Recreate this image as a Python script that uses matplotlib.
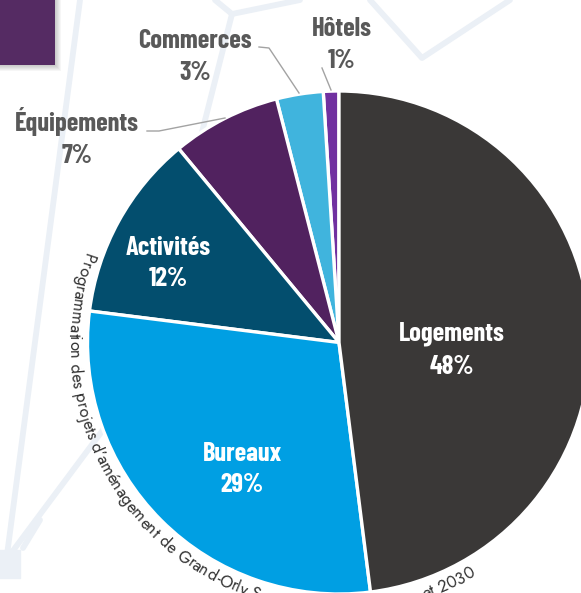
import numpy as np
import matplotlib
matplotlib.use("Agg")
import matplotlib.pyplot as plt
from matplotlib.font_manager import FontProperties, findfont
from matplotlib.ft2font import FT2Font
from matplotlib.patches import Rectangle

# data (counter-clockwise from 12 o'clock)
categories = ["Hôtels", "Commerces", "Équipements", "Activités", "Bureaux", "Logements"]
shares = [1, 3, 7, 12, 29, 48]
pct_labels = ["1%", "3%", "7%", "12%", "29%", "48%"]
colors = ["#7030a0", "#40b4dd", "#51225f", "#034e6e", "#009fe3", "#3a3837"]
caption = "Programmation des projets d’aménagement de Grand-Orly Seine Bièvre entre 2021 et 2030"

# layout, in image pixels (y pointing down)
W, H = 581, 593
CX, CY, R = 339, 342.5, 251.5
LABEL_FONT = ["Barlow Condensed", "DejaVu Sans"]
CAPTION_FONT = ["Jost", "DejaVu Sans"]
label_pos = {
    # x, name baseline y, percent baseline y, inside the pie?
    "Hôtels": (342, 36, 68, False),
    "Commerces": (195, 48, 80, False),
    "Équipements": (77, 131, 163, False),
    "Activités": (168, 255, 286, True),
    "Bureaux": (242, 461, 492, True),
    "Logements": (452, 341, 374, True),
}
leaders = {
    "Hôtels": [(322, 68), (331, 90)],
    "Commerces": [(259, 47), (269, 48), (299, 93)],
    "Équipements": [(147, 131), (159, 131), (225, 118)],
}
bg_lines = [
    [(80, 0), (7, 555)],
    [(12, 552), (170, 340)],
    [(23, 548), (40, 520)],
    [(215, 0), (232, 14), (300, 0)],
    [(232, 14), (200, 140)],
    [(370, 0), (422, 58), (510, 0)],
]


def px(x, y):
    return x, H - y


fig = plt.figure(figsize=(W / 100, H / 100), dpi=100)
ax = fig.add_axes([0, 0, 1, 1])

# background network
for line in bg_lines:
    xs, ys = zip(*[px(*p) for p in line])
    ax.plot(xs, ys, color="#ebf0f6", lw=4.2, solid_capstyle="round",
            solid_joinstyle="round", zorder=0)
ax.add_patch(Rectangle(px(-2, 578), 22, 28, color="#ebf0f6", zorder=0))

# purple box with soft shadow
for k in range(6, 0, -1):
    ax.add_patch(Rectangle(px(-5, 65 + k), 60 + k, 70 + k, color="black",
                           alpha=0.035, lw=0, zorder=1))
ax.add_patch(Rectangle(px(-5, 65), 60, 70, color="#552b63", lw=0, zorder=1))

ax.pie(shares, colors=colors, startangle=90, counterclock=True,
       center=px(CX, CY), radius=R,
       wedgeprops=dict(edgecolor="white", linewidth=2.4, zorder=2))

for name, pct in zip(categories, pct_labels):
    x, yn, yp, inside = label_pos[name]
    col = "white" if inside else "#595959"
    for txt, yy in ((name, yn), (pct, yp)):
        ax.text(*px(x, yy), txt, ha="center", va="baseline", color=col,
                fontsize=19, fontweight="bold", family=LABEL_FONT, zorder=4)

for name, pts in leaders.items():
    xs, ys = zip(*[px(*p) for p in pts])
    ax.plot(xs, ys, color="#a3a3a3", lw=1.0, zorder=3)

# caption bent around the pie: advance widths and ink centres from the font
ft = FT2Font(findfont(FontProperties(family=CAPTION_FONT[0])), hinting_factor=1)
ft.set_size(10, 100)
adv, ink = [], []
for c in caption:
    g = ft.load_char(ord(c))
    adv.append(g.linearHoriAdvance / 65536)
    ink.append((g.horiBearingX + g.width / 2) / 64)
adv, ink = np.array(adv), np.array(ink)
theta0, theta1 = np.radians(160.5), np.radians(300.5)
r_mid, r_base = 264, 270
scale = r_mid * (theta1 - theta0) / adv.sum()
cap_size = 10 * scale
pen = np.concatenate([[0], np.cumsum(adv)[:-1]]) * scale
pos = pen + ink * scale
ox, oy = px(CX, CY)
for ch, s in zip(caption, pos):
    if ch == " ":
        continue
    th = theta0 + s / r_mid
    x, y = ox + r_base * np.cos(th), oy + r_base * np.sin(th)
    if y < -6:
        continue  # below the picture's bottom edge, as in the original crop
    ax.text(x, y, ch, rotation=np.degrees(th) + 90, rotation_mode="anchor",
            ha="center", va="baseline", fontsize=cap_size, family=CAPTION_FONT,
            color="#333333", zorder=3)

ax.set_xlim(0, W)
ax.set_ylim(0, H)
ax.set_aspect("equal")
ax.axis("off")
fig.savefig("out.png", dpi=100, facecolor="white")
